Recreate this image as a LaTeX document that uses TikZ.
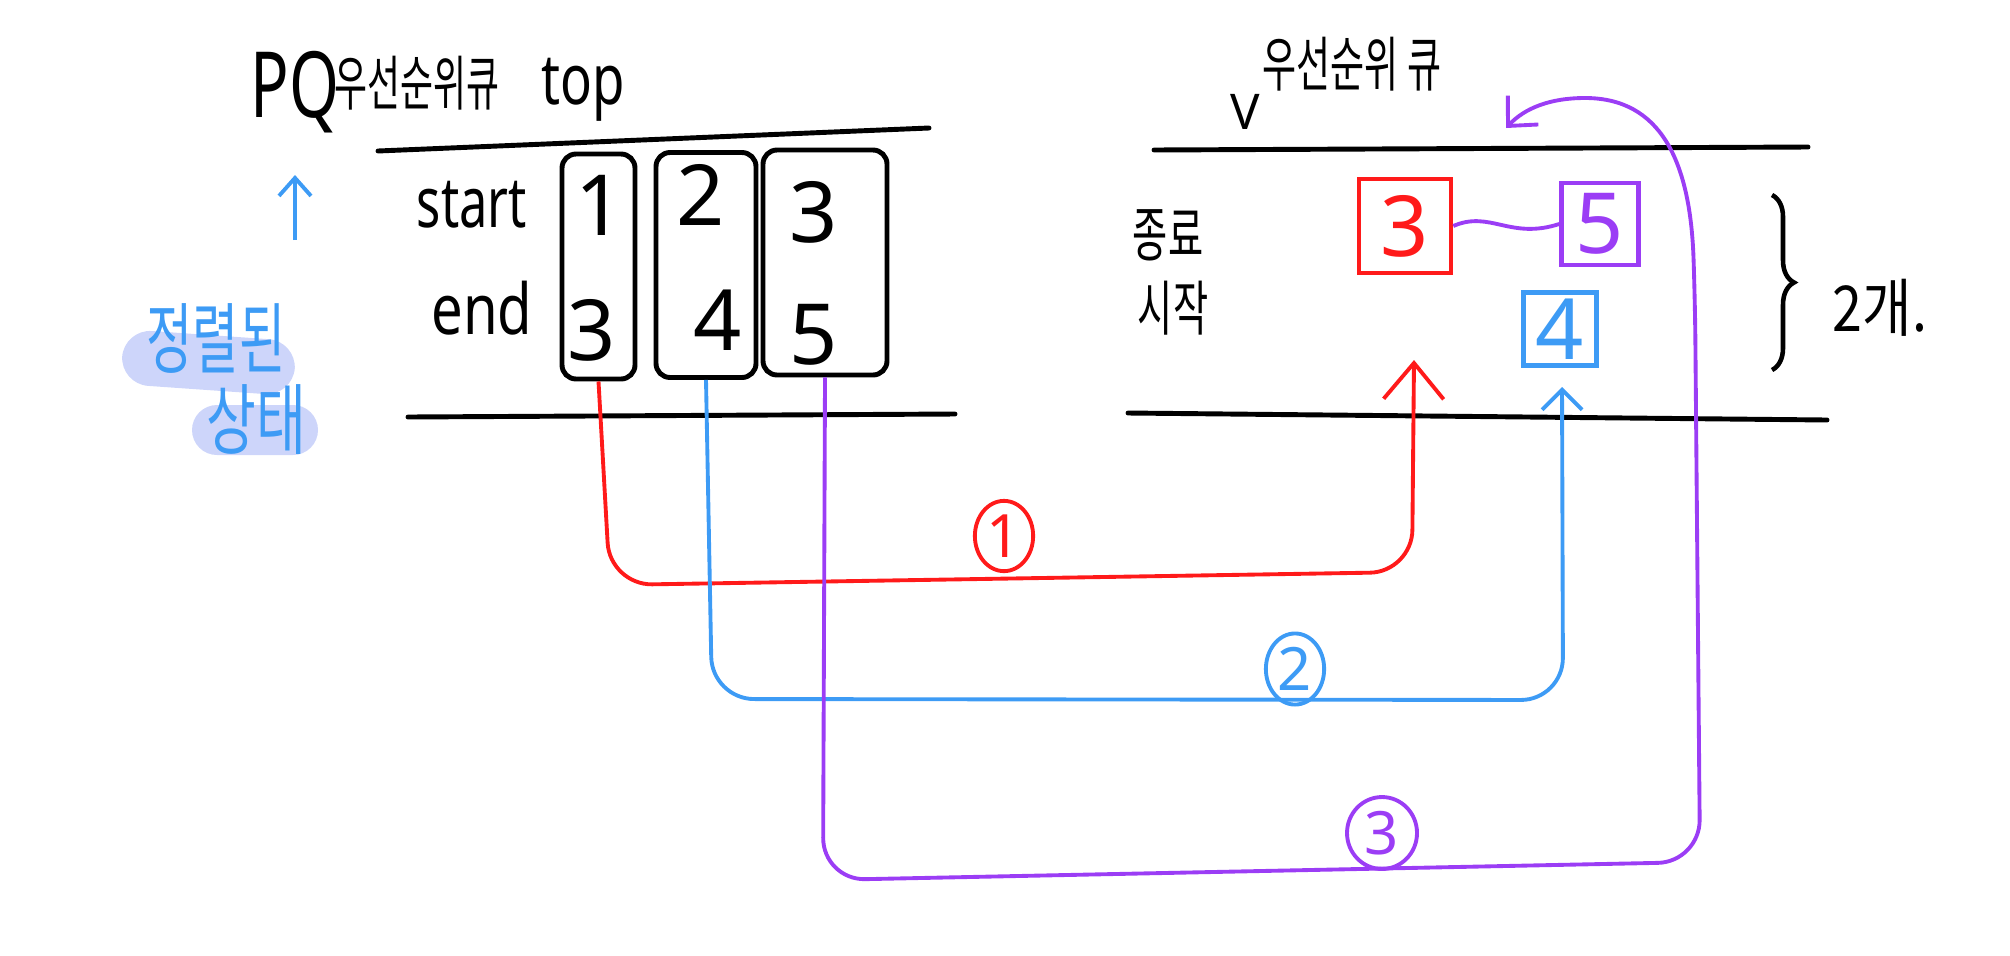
\documentclass[tikz,border=0pt]{standalone}
\usepackage{fontspec}
\setmainfont{Noto Sans}
\newfontfamily\kr{Noto Sans CJK KR}
\usetikzlibrary{arrows.meta,positioning,shapes.geometric,decorations.pathreplacing}
\definecolor{penred}{RGB}{255,26,26}
\definecolor{penblue}{RGB}{61,155,245}
\definecolor{penpurple}{RGB}{155,61,245}
\definecolor{marker}{RGB}{205,213,250}
\newcommand{\squeeze}[2]{\scalebox{#1}[1]{#2}}

\begin{document}
\begin{tikzpicture}[
  qline/.style={line width=1.4pt, line cap=round},
  slot/.style={draw, line width=1.4pt, rounded corners=4pt, minimum height=2.25cm},
  num/.style={font=\fontsize{24}{28}\selectfont},
  txt/.style={font=\fontsize{20}{24}\selectfont},
  hangul/.style={font=\kr\fontsize{17}{20}\selectfont, inner sep=1pt},
  item/.style={draw, line width=1.3pt, font=\fontsize{24}{28}\selectfont, inner sep=0pt},
  step1/.style={draw=penred, line width=1.1pt, rounded corners=12pt},
  step2/.style={draw=penblue, line width=1.1pt, rounded corners=12pt},
  step3/.style={draw=penpurple, line width=1.1pt, rounded corners=12pt},
  tag/.style={ellipse, draw, line width=1.1pt, inner sep=1pt, font=\fontsize{17}{20}\selectfont}
]
\useasboundingbox (0,0) rectangle (20.1,-9.55);

% left side: sorted pq
\node[font=\fontsize{26}{30}\selectfont] (pq) at (2.95,-0.92) {\squeeze{0.7}{PQ}};
\node[hangul] (pqname) at (4.17,-0.83) {\squeeze{0.6}{우선순위큐}};
\node[font=\fontsize{20}{24}\selectfont] (top) at (5.83,-0.9) {\squeeze{0.75}{top}};

\node (uptail) at (2.95,-2.4) {};
\coordinate (uphead) at (2.95,-1.75);
\draw[penblue, line width=1.1pt, -{Straight Barb[length=0.18cm,width=0.32cm]}] (uptail.center) -- (uphead);

\fill[marker, rounded corners=0.28cm, rotate around={-4:(2.08,-3.62)}] (1.22,-3.35) rectangle (2.95,-3.9);
\fill[marker, rounded corners=0.25cm] (1.92,-4.05) rectangle (3.18,-4.55);
\node[font=\kr\fontsize{22}{26}\selectfont, text=penblue] (sorted) at (2.16,-3.38) {\squeeze{0.65}{정렬된}};
\node[font=\kr\fontsize{22}{26}\selectfont, text=penblue] (state) at (2.56,-4.2) {\squeeze{0.7}{상태}};

\draw[qline] (3.78,-1.51) -- (9.29,-1.28);
\draw[qline] (4.08,-4.17) -- (9.55,-4.14);

\node[txt] (start) at (4.72,-2.05) {\squeeze{0.72}{start}};
\node[txt] (end) at (4.82,-3.08) {\squeeze{0.8}{end}};

\node[slot, minimum width=0.73cm] (box1) at (5.985,-2.665) {};
\node[slot, minimum width=1.0cm] (box2) at (7.06,-2.65) {};
\node[slot, minimum width=1.24cm] (box3) at (8.25,-2.625) {};

\node[num] (s1) at (6.0,-2.05) {1};
\node[num] (e1) at (5.92,-3.3) {3};
\node[num] (s2) at (7.01,-1.95) {2};
\node[num] (e2) at (7.18,-3.2) {4};
\node[num] (s3) at (8.14,-2.12) {3};
\node[num] (e3) at (8.14,-3.35) {5};

% right side: pq by end
\node[font=\fontsize{14}{17}\selectfont] (vee) at (12.45,-1.12) {V};
\node[hangul] (rqname) at (13.52,-0.64) {\squeeze{0.62}{우선순위 큐}};

\draw[qline] (11.54,-1.5) -- (18.08,-1.47);
\draw[qline] (11.28,-4.13) -- (18.27,-4.2);

\node[font=\kr\fontsize{17}{20}\selectfont] (endsort) at (11.68,-2.35) {\squeeze{0.64}{종료}};
\node[font=\kr\fontsize{17}{20}\selectfont] (startsort) at (11.73,-3.08) {\squeeze{0.64}{시작}};

\node[item, draw=penred, text=penred, minimum width=0.92cm, minimum height=0.94cm] (q3) at (14.05,-2.26) {3};
\node[item, draw=penpurple, text=penpurple, minimum width=0.77cm, minimum height=0.82cm] (q5) at (16.0,-2.24) {5};
\node[item, draw=penblue, text=penblue, minimum width=0.73cm, minimum height=0.73cm] (q4) at (15.6,-3.29) {4};
\draw[penpurple, line width=1.1pt] (q3.east) .. controls (14.9,-2.1) and (15.1,-2.4) .. (q5.west);

\draw[line width=1.3pt, decorate, decoration={brace, amplitude=0.22cm}] (17.72,-1.95) -- (17.72,-3.7);
\node[font=\kr\fontsize{18}{22}\selectfont] (count) at (18.8,-3.08) {\squeeze{0.85}{2개.}};

% moves
\coordinate (redtip) at (14.14,-3.6);
\coordinate (bluetip) at (15.62,-3.87);
\coordinate (purpletip) at (15.06,-1.28);

\draw[step1, -{Straight Barb[length=0.36cm,width=0.6cm]}] (box1.south) -- (6.1,-5.85) -- (14.12,-5.72) -- (redtip);
\draw[step2, -{Straight Barb[length=0.2cm,width=0.4cm]}] (box2.south) -- (7.12,-6.99) -- (15.63,-7.0) -- (bluetip);
\draw[step3, -{Straight Barb[length=0.22cm,width=0.42cm]}] (box3.south) -- (8.23,-8.8) -- (17.0,-8.62) -- (16.95,-3.0) [sharp corners] .. controls (16.9,-1.6) and (16.6,-0.98) .. (15.85,-0.98) .. controls (15.5,-0.98) and (15.25,-1.08) .. (purpletip);

\node[tag, draw=penred, text=penred, minimum width=0.45cm, minimum height=0.6cm] (t1) at (10.04,-5.36) {1};
\node[tag, draw=penblue, text=penblue, minimum width=0.45cm, minimum height=0.6cm] (t2) at (12.95,-6.69) {2};
\node[tag, draw=penpurple, text=penpurple, minimum width=0.7cm, minimum height=0.7cm] (t3) at (13.82,-8.33) {3};
\end{tikzpicture}
\end{document}
